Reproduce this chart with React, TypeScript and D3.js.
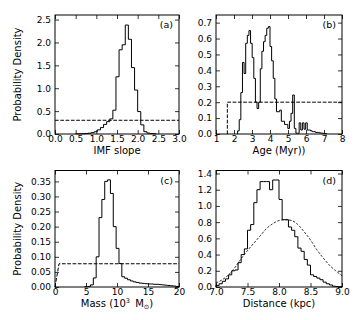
import React, { useEffect, useRef } from 'react';
import * as d3 from 'd3';

// (a) IMF slope posterior: bins of 0.075 starting at 0.5
const imfStart = 0.5;
const imfBin = 0.075;
const imfValues = [0.003, 0.005, 0.008, 0.012, 0.018, 0.03, 0.05, 0.09, 0.14, 0.21, 0.27, 0.33, 0.52,
  1.25, 1.84, 1.95, 2.38, 2.07, 1.45, 0.96, 0.49, 0.2, 0.05, 0.02, 0.01, 0.005];
const imfXTicks = [0, 0.5, 1, 1.5, 2, 2.5, 3];
const imfYTicks = [0, 0.5, 1, 1.5, 2, 2.5];
const imfPriorX = [0, 3];
const imfPriorY = [0.3, 0.3];

// (b) Age posterior: bins of 0.09 Myr starting at 2.2
const ageStart = 2.2;
const ageBin = 0.09;
const ageValues = [0.02, 0.09, 0.26, 0.45, 0.38, 0.57, 0.62, 0.65, 0.57, 0.48,
  0.35, 0.2, 0.16, 0.2, 0.41, 0.52, 0.58, 0.62, 0.665, 0.675,
  0.55, 0.46, 0.35, 0.22, 0.14, 0.14, 0.15, 0.08, 0.08, 0.06,
  0.06, 0.035, 0.08, 0.13, 0.245, 0.035, 0.005, 0.005, 0.07, 0.025,
  0.07, 0.03, 0.07, 0.025, 0.025, 0.02, 0.015, 0.015, 0.01, 0.01,
  0.008, 0.006, 0.005, 0.003, 0.002];
const ageXTicks = [1, 2, 3, 4, 5, 6, 7, 8];
const ageYTicks = [0, 0.1, 0.2, 0.3, 0.4, 0.5, 0.6, 0.7];
const agePriorX = [1.63, 1.63, 8];
const agePriorY = [0, 0.2, 0.2];

// (c) Mass posterior: bins of 0.46 (10^3 Msun) starting at 4.8
const massStart = 4.8;
const massBin = 0.46;
const massValues = [0.001, 0.002, 0.007, 0.03, 0.1, 0.23, 0.29, 0.35, 0.355, 0.31,
  0.2, 0.128, 0.078, 0.034, 0.029, 0.024, 0.02, 0.017, 0.015, 0.013,
  0.012, 0.011, 0.01, 0.01, 0.009, 0.009, 0.008, 0.007, 0.006, 0.005,
  0.004, 0.003, 0.002];
const massXTicks = [0, 5, 10, 15, 20];
const massYTicks = [0, 0.05, 0.1, 0.15, 0.2, 0.25, 0.3, 0.35];
const massPriorX = [0, 0.65, 20];
const massPriorY = [0, 0.077, 0.077];

// (d) Distance posterior: bins of 0.05 kpc starting at 7.0
const distStart = 7.0;
const distBin = 0.05;
const distValues = [0.02, 0.04, 0.07, 0.1, 0.15, 0.2, 0.21, 0.3, 0.4, 0.47,
  0.7, 0.77, 1.04, 1.2, 1.3, 1.3, 1.3, 1.2, 1.32, 1.32,
  1.08, 0.83, 0.83, 0.74, 0.7, 0.62, 0.48, 0.44, 0.34, 0.27,
  0.15, 0.13, 0.11, 0.09, 0.06, 0.04, 0.025, 0.01, 0.005, 0.003];
const distXTicks = [7, 7.5, 8, 8.5, 9];
const distYTicks = [0, 0.2, 0.4, 0.6, 0.8, 1.0, 1.2, 1.4];
const distPriorX = [7.0, 7.1, 7.2, 7.3, 7.4, 7.5, 7.6, 7.7, 7.8, 7.9, 8.0, 8.1, 8.2, 8.3, 8.4, 8.5, 8.6, 8.7, 8.8, 8.9, 9.0];
const distPriorY = [0.05, 0.09, 0.15, 0.24, 0.35, 0.45, 0.54, 0.63, 0.72, 0.78, 0.82, 0.83, 0.82, 0.77, 0.68, 0.58, 0.46, 0.36, 0.27, 0.2, 0.14];

const FONT = 'DejaVu Sans, sans-serif';

const App = () => {
  const svgRef = useRef<SVGSVGElement>(null);

  useEffect(() => {
    const svg = d3.select(svgRef.current);
    svg.selectAll('*').remove();

    const panels = [
      {
        letter: '(a)', box: [55, 179, 15, 134], xDomain: [0, 3], yMax: 2.6,
        start: imfStart, bin: imfBin, values: imfValues,
        xTicks: imfXTicks, yTicks: imfYTicks, xFmt: '.1f', yFmt: '.1f',
        priorX: imfPriorX, priorY: imfPriorY, dash: '3.7,1.6', dashW: 1, curve: d3.curveLinear,
        xLabel: 'IMF slope', showY: true,
      },
      {
        letter: '(b)', box: [216, 342, 15, 134], xDomain: [1, 8], yMax: 0.748,
        start: ageStart, bin: ageBin, values: ageValues,
        xTicks: ageXTicks, yTicks: ageYTicks, xFmt: 'd', yFmt: '.1f',
        priorX: agePriorX, priorY: agePriorY, dash: '3.7,1.6', dashW: 1, curve: d3.curveLinear,
        xLabel: 'Age (Myr))', showY: false,
      },
      {
        letter: '(c)', box: [55, 179, 170.5, 287], xDomain: [0, 20], yMax: 0.386,
        start: massStart, bin: massBin, values: massValues,
        xTicks: massXTicks, yTicks: massYTicks, xFmt: 'd', yFmt: '.2f',
        priorX: massPriorX, priorY: massPriorY, dash: '3.7,1.6', dashW: 1, curve: d3.curveLinear,
        xLabel: null, showY: true,
      },
      {
        letter: '(d)', box: [216, 342, 170.5, 287], xDomain: [7, 9], yMax: 1.437,
        start: distStart, bin: distBin, values: distValues,
        xTicks: distXTicks, yTicks: distYTicks, xFmt: '.1f', yFmt: '.1f',
        priorX: distPriorX, priorY: distPriorY, dash: '2.5,1.5', dashW: 0.8, curve: d3.curveMonotoneX,
        xLabel: 'Distance (kpc)', showY: false,
      },
    ];

    panels.forEach(p => {
      const [left, right, top, bottom] = p.box;
      const x = d3.scaleLinear().domain(p.xDomain).range([left, right]);
      const y = d3.scaleLinear().domain([0, p.yMax]).range([bottom, top]);
      const g = svg.append('g');

      // Step outline of the histogram
      const pts: [number, number][] = [[p.start, 0]];
      p.values.forEach((v, i) => {
        pts.push([p.start + i * p.bin, v]);
        pts.push([p.start + (i + 1) * p.bin, v]);
      });
      pts.push([p.start + p.values.length * p.bin, 0]);
      const line = d3.line<[number, number]>().x(d => x(d[0])).y(d => y(d[1]));
      g.append('path')
        .attr('d', line(pts))
        .attr('fill', 'none')
        .attr('stroke', '#000')
        .attr('stroke-width', 1);

      // Prior (dashed)
      const prior = p.priorX.map((v, i) => [v, p.priorY[i]] as [number, number]);
      g.append('path')
        .attr('d', d3.line<[number, number]>().x(d => x(d[0])).y(d => y(d[1])).curve(p.curve)(prior))
        .attr('fill', 'none')
        .attr('stroke', '#000')
        .attr('stroke-width', p.dashW)
        .attr('stroke-dasharray', p.dash);

      // Axes, ticks pointing inward on all sides
      const axB = g.append('g').attr('transform', `translate(0,${bottom})`)
        .call(d3.axisBottom(x).tickValues(p.xTicks).tickSize(-4).tickPadding(1.2).tickFormat(d3.format(p.xFmt)));
      const axT = g.append('g').attr('transform', `translate(0,${top})`)
        .call(d3.axisTop(x).tickValues(p.xTicks).tickSize(-4).tickFormat(() => ''));
      const axL = g.append('g').attr('transform', `translate(${left},0)`)
        .call(d3.axisLeft(y).tickValues(p.yTicks).tickSize(-4).tickPadding(4).tickFormat(d3.format(p.yFmt)));
      const axR = g.append('g').attr('transform', `translate(${right},0)`)
        .call(d3.axisRight(y).tickValues(p.yTicks).tickSize(-4).tickFormat(() => ''));
      [axB, axT, axL, axR].forEach(a => {
        a.select('.domain').remove();
        a.selectAll('line').attr('stroke', '#000').attr('stroke-width', 0.8);
        a.selectAll('text').attr('font-family', FONT).attr('font-size', 9).attr('fill', '#000');
      });

      g.append('rect')
        .attr('x', left).attr('y', top)
        .attr('width', right - left).attr('height', bottom - top)
        .attr('fill', 'none').attr('stroke', '#000').attr('stroke-width', 1);

      g.append('text')
        .attr('x', right - 6).attr('y', top + 13)
        .attr('text-anchor', 'end')
        .attr('font-family', FONT).attr('font-size', 9.5)
        .text(p.letter);

      if (p.xLabel) {
        g.append('text')
          .attr('x', (left + right) / 2).attr('y', bottom + 19.5)
          .attr('text-anchor', 'middle')
          .attr('font-family', FONT).attr('font-size', 10)
          .text(p.xLabel);
      } else {
        const t = g.append('text')
          .attr('x', (left + right) / 2).attr('y', bottom + 19.5)
          .attr('text-anchor', 'middle')
          .attr('font-family', FONT).attr('font-size', 10);
        t.append('tspan').text('Mass (10');
        t.append('tspan').attr('font-size', 6.5).attr('dy', -4).text('3');
        t.append('tspan').attr('dy', 4).text('\u2009 M');
        t.append('tspan').attr('font-size', 6.5).attr('dy', 2.5).text('\u2299');
        t.append('tspan').attr('dy', -2.5).text(')');
      }

      if (p.showY) {
        g.append('text')
          .attr('transform', `translate(21,${(top + bottom) / 2}) rotate(-90)`)
          .attr('text-anchor', 'middle')
          .attr('font-family', FONT).attr('font-size', 10)
          .text('Probability Density');
      }
    });
  }, []);

  return (
    <svg ref={svgRef} width={360} height={320}
      style={{ position: 'absolute', left: 0, top: 0, background: '#fff' }} />
  );
};

export default App;
